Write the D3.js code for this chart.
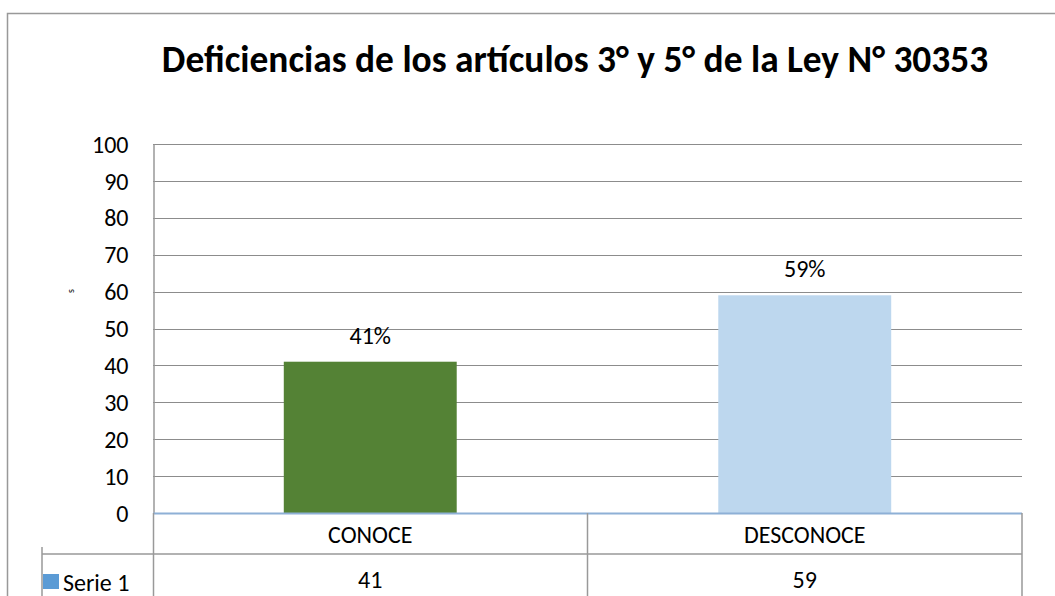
<!DOCTYPE html>
<html>
<head>
<meta charset="utf-8">
<style>
  body { margin: 0; background: #fff; }
  text { font-family: "Carlito", "Lato", "Open Sans", sans-serif; }
</style>
</head>
<body>
<script src="https://d3js.org/d3.v7.min.js"></script>
<div id="chart"></div>
<script>
var categories = ["CONOCE", "DESCONOCE"];
var values = [41, 59];
var labels = ["41%", "59%"];
var yTicks = [0, 10, 20, 30, 40, 50, 60, 70, 80, 90, 100];
var seriesName = "Serie 1";
var title = "Deficiencias de los artículos 3° y 5° de la Ley N° 30353";
var colors = ["#548235", "#BDD7EE"];

var W = 1055, H = 596;
var plotLeft = 153, plotRight = 1022, plotTop = 144, plotBottom = 513;
var fs = 24;

var svg = d3.select("#chart").append("svg")
    .attr("width", W).attr("height", H);

// outer chart border
svg.append("path")
    .attr("d", "M7.5," + H + "V13.5H" + W)
    .attr("fill", "none").attr("stroke", "#999").attr("stroke-width", 1.5);

svg.append("text")
    .attr("x", 575).attr("y", 72)
    .attr("text-anchor", "middle")
    .attr("font-size", 37.4).attr("font-weight", "bold")
    .text(title);

var x = d3.scaleBand().domain(categories).range([plotLeft, plotRight]).padding(0);
var y = d3.scaleLinear().domain([0, 100]).range([plotBottom, plotTop]);

// gridlines
svg.append("g").selectAll("line")
    .data(yTicks.filter(function (d) { return d > 0; }))
    .enter().append("line")
    .attr("x1", plotLeft).attr("x2", plotRight)
    .attr("y1", function (d) { return Math.round(y(d)) + 0.5; })
    .attr("y2", function (d) { return Math.round(y(d)) + 0.5; })
    .attr("stroke", "#8c8c8c").attr("stroke-width", 1);

// y axis
var yAxis = svg.append("g")
    .attr("transform", "translate(" + (plotLeft + 0.5) + ",0)")
    .call(d3.axisLeft(y).tickValues(yTicks).tickSize(0).tickPadding(25));
yAxis.select(".domain").attr("stroke", "#999").attr("stroke-width", 1.5);
yAxis.attr("font-size", fs).attr("font-family", null);
yAxis.selectAll("text").attr("fill", "#000").attr("dy", "0.34em");

// tiny axis title
svg.append("text")
    .attr("transform", "translate(74,291) rotate(-90)")
    .attr("text-anchor", "middle")
    .attr("font-size", 10)
    .text("s");

// bars
var barW = x.bandwidth() * 0.398;
svg.append("g").selectAll("rect")
    .data(values)
    .enter().append("rect")
    .attr("x", function (d, i) { return x(categories[i]) + (x.bandwidth() - barW) / 2; })
    .attr("y", function (d) { return y(d); })
    .attr("width", barW)
    .attr("height", function (d) { return y(0) - y(d); })
    .attr("fill", function (d, i) { return colors[i]; });

// data labels
svg.append("g").selectAll("text")
    .data(values)
    .enter().append("text")
    .attr("x", function (d, i) { return x(categories[i]) + x.bandwidth() / 2; })
    .attr("y", function (d) { return y(d) - 18; })
    .attr("text-anchor", "middle")
    .attr("font-size", fs)
    .text(function (d, i) { return labels[i]; });

// zero line
svg.append("line")
    .attr("x1", plotLeft).attr("x2", plotRight)
    .attr("y1", y(0) + 0.5).attr("y2", y(0) + 0.5)
    .attr("stroke", "#8EB0D6").attr("stroke-width", 2);

// data table
var rowMid = 554, tableLeft = 42;
var table = svg.append("g").attr("stroke", "#999").attr("stroke-width", 1.5);
table.append("line").attr("x1", tableLeft).attr("x2", plotRight).attr("y1", rowMid).attr("y2", rowMid);
table.append("line").attr("x1", tableLeft).attr("x2", tableLeft).attr("y1", 547).attr("y2", H);
table.append("line").attr("x1", plotRight).attr("x2", plotRight).attr("y1", y(0)).attr("y2", H);
table.append("line").attr("x1", plotLeft + 0.5).attr("x2", plotLeft + 0.5).attr("y1", y(0)).attr("y2", H);
table.append("line").attr("x1", x(categories[1])).attr("x2", x(categories[1])).attr("y1", y(0)).attr("y2", H);

svg.append("g").selectAll("text")
    .data(categories)
    .enter().append("text")
    .attr("x", function (d) { return x(d) + x.bandwidth() / 2; })
    .attr("y", 543)
    .attr("text-anchor", "middle")
    .attr("font-size", fs)
    .text(function (d) { return d; });

svg.append("g").selectAll("text")
    .data(values)
    .enter().append("text")
    .attr("x", function (d, i) { return x(categories[i]) + x.bandwidth() / 2; })
    .attr("y", 588)
    .attr("text-anchor", "middle")
    .attr("font-size", fs)
    .text(function (d) { return d; });

// legend key
svg.append("rect")
    .attr("x", 43).attr("y", 574).attr("width", 16).attr("height", 15)
    .attr("fill", "#5B9BD5");
svg.append("text")
    .attr("x", 63).attr("y", 591)
    .attr("font-size", fs)
    .text(seriesName);
</script>
</body>
</html>
